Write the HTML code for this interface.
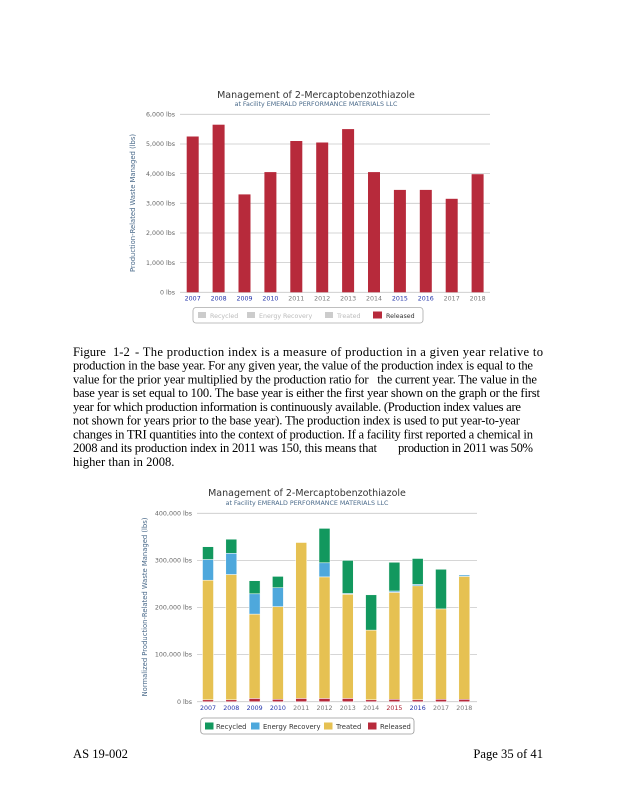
<!DOCTYPE html>
<html><head><meta charset="utf-8"><style>
html,body{margin:0;padding:0;background:#fff;}
svg{display:block;}
.t{font-family:"Liberation Serif",serif;font-size:12.6px;fill:#000;}
.a{font-family:"DejaVu Sans","Liberation Sans",sans-serif;}
</style></head><body>
<svg width="618" height="800" viewBox="0 0 618 800" xmlns="http://www.w3.org/2000/svg">
<rect width="618" height="800" fill="#fff"/>
<!-- Chart 1 -->
<text class="a" x="316" y="98" font-size="9.5" fill="#333" text-anchor="middle">Management of 2-Mercaptobenzothiazole</text>
<text class="a" x="316" y="106" font-size="6.3" fill="#4a6a8a" text-anchor="middle">at Facility EMERALD PERFORMANCE MATERIALS LLC</text>
<g stroke="#c8c8c8" stroke-width="0.8">
<line x1="180" x2="490" y1="114.3" y2="114.3"/><line x1="180" x2="490" y1="144" y2="144"/><line x1="180" x2="490" y1="173.6" y2="173.6"/><line x1="180" x2="490" y1="203.3" y2="203.3"/><line x1="180" x2="490" y1="233" y2="233"/><line x1="180" x2="490" y1="262.6" y2="262.6"/><line x1="180" x2="490" y1="292.3" y2="292.3"/>
</g>
<g class="a" font-size="6.3" fill="#666" text-anchor="end">
<text x="175" y="116.5">6,000 lbs</text><text x="175" y="146">5,000 lbs</text><text x="175" y="176">4,000 lbs</text><text x="175" y="205.5">3,000 lbs</text><text x="175" y="235">2,000 lbs</text><text x="175" y="265">1,000 lbs</text><text x="175" y="294.5">0 lbs</text>
</g>
<text class="a" font-size="6.8" fill="#4a6a8a" text-anchor="middle" transform="translate(135,203) rotate(-90)">Production-Related Waste Managed (lbs)</text>
<g fill="#b72a3b">
<rect x="186.7" y="136.5" width="12" height="155.8"/><rect x="212.6" y="124.7" width="12" height="167.6"/><rect x="238.5" y="194.4" width="12" height="97.9"/><rect x="264.4" y="172.1" width="12" height="120.2"/><rect x="290.3" y="141" width="12" height="151.3"/><rect x="316.2" y="142.5" width="12" height="149.8"/><rect x="342.1" y="129.1" width="12" height="163.2"/><rect x="368" y="172.1" width="12" height="120.2"/><rect x="393.9" y="189.9" width="12" height="102.4"/><rect x="419.8" y="189.9" width="12" height="102.4"/><rect x="445.7" y="198.8" width="12" height="93.5"/><rect x="471.6" y="174.2" width="12" height="118.1"/>
</g>
<g class="a" font-size="6.3" text-anchor="middle">
<text x="192.7" y="300.5" fill="#2233aa">2007</text><text x="218.6" y="300.5" fill="#2233aa">2008</text><text x="244.5" y="300.5" fill="#2233aa">2009</text><text x="270.4" y="300.5" fill="#2233aa">2010</text><text x="296.3" y="300.5" fill="#777">2011</text><text x="322.2" y="300.5" fill="#777">2012</text><text x="348.1" y="300.5" fill="#777">2013</text><text x="374" y="300.5" fill="#777">2014</text><text x="399.9" y="300.5" fill="#2233aa">2015</text><text x="425.8" y="300.5" fill="#2233aa">2016</text><text x="451.7" y="300.5" fill="#777">2017</text><text x="477.6" y="300.5" fill="#777">2018</text>
</g>
<rect x="193" y="307.5" width="230" height="15.5" rx="3" fill="#fff" stroke="#aaa" stroke-width="0.8"/>
<g class="a" font-size="6.3">
<rect x="198" y="312" width="8" height="6" fill="#ccc"/><text x="210" y="318" fill="#bbb">Recycled</text>
<rect x="247" y="312" width="8" height="6" fill="#ccc"/><text x="259" y="318" fill="#bbb">Energy Recovery</text>
<rect x="325" y="312" width="8" height="6" fill="#ccc"/><text x="337" y="318" fill="#bbb">Treated</text>
<rect x="373" y="311.5" width="9" height="7" fill="#b72a3b"/><text x="386" y="318" fill="#333">Released</text>
</g>
<!-- Paragraph -->
<text class="t" x="73" y="356" font-size="8">Figure</text>
<text class="t" x="113" y="356" font-size="9">1-2</text>
<text class="t" x="135" y="356" textLength="408" lengthAdjust="spacing">- The production index is a measure of production in a given year relative to</text>
<text class="t" x="73" y="369.5" textLength="460" lengthAdjust="spacing">production in the base year. For any given year, the value of the production index is equal to the</text>
<text class="t" x="73" y="383.5" textLength="464" lengthAdjust="spacing">value for the prior year multiplied by the production ratio for &#160; the current year. The value in the</text>
<text class="t" x="73" y="397" textLength="467" lengthAdjust="spacing">base year is set equal to 100. The base year is either the first year shown on the graph or the first</text>
<text class="t" x="73" y="411" textLength="448" lengthAdjust="spacing">year for which production information is continuously available. (Production index values are</text>
<text class="t" x="73" y="424.5" textLength="447" lengthAdjust="spacing">not shown for years prior to the base year). The production index is used to put year-to-year</text>
<text class="t" x="73" y="438.5" textLength="460" lengthAdjust="spacing">changes in TRI quantities into the context of production. If a facility first reported a chemical in</text>
<text class="t" x="73" y="452" textLength="304" lengthAdjust="spacing">2008 and its production index in 2011 was 150, this means that</text>
<text class="t" x="398" y="452" textLength="135" lengthAdjust="spacing">production in 2011 was 50%</text>
<text class="t" x="73" y="466">higher than in 2008.</text>
<!-- Chart 2 -->
<text class="a" x="307" y="496" font-size="9.5" fill="#333" text-anchor="middle">Management of 2-Mercaptobenzothiazole</text>
<text class="a" x="307" y="505" font-size="6.3" fill="#4a6a8a" text-anchor="middle">at Facility EMERALD PERFORMANCE MATERIALS LLC</text>
<g stroke="#c8c8c8" stroke-width="0.8">
<line x1="197" x2="477" y1="513.3" y2="513.3"/><line x1="197" x2="477" y1="560.4" y2="560.4"/><line x1="197" x2="477" y1="607.5" y2="607.5"/><line x1="197" x2="477" y1="654.6" y2="654.6"/><line x1="197" x2="477" y1="701.7" y2="701.7"/>
</g>
<g class="a" font-size="6.3" fill="#666" text-anchor="end">
<text x="192" y="515.5">400,000 lbs</text><text x="192" y="562.5">300,000 lbs</text><text x="192" y="609.5">200,000 lbs</text><text x="192" y="656.5">100,000 lbs</text><text x="192" y="704">0 lbs</text>
</g>
<text class="a" font-size="6.8" fill="#4a6a8a" text-anchor="middle" transform="translate(147,607) rotate(-90)">Normalized Production-Related Waste Managed (lbs)</text>
<g stroke="#fff" stroke-width="0.5">
<rect x="202.5" y="699.8" width="11" height="1.9" fill="#b72a3b"/><rect x="202.5" y="580.2" width="11" height="119.6" fill="#e6c152"/><rect x="202.5" y="559.5" width="11" height="20.7" fill="#4ea8dc"/><rect x="202.5" y="546.7" width="11" height="12.8" fill="#12985e"/>
<rect x="225.8" y="699.8" width="11" height="1.9" fill="#b72a3b"/><rect x="225.8" y="574.5" width="11" height="125.3" fill="#e6c152"/><rect x="225.8" y="553.3" width="11" height="21.2" fill="#4ea8dc"/><rect x="225.8" y="539.2" width="11" height="14.1" fill="#12985e"/>
<rect x="249.1" y="698.4" width="11" height="3.3" fill="#b72a3b"/><rect x="249.1" y="614.1" width="11" height="84.3" fill="#e6c152"/><rect x="249.1" y="593.8" width="11" height="20.3" fill="#4ea8dc"/><rect x="249.1" y="580.7" width="11" height="13.1" fill="#12985e"/>
<rect x="272.4" y="699.3" width="11" height="2.4" fill="#b72a3b"/><rect x="272.4" y="606.6" width="11" height="92.7" fill="#e6c152"/><rect x="272.4" y="587.7" width="11" height="18.9" fill="#4ea8dc"/><rect x="272.4" y="576.4" width="11" height="11.3" fill="#12985e"/>
<rect x="295.7" y="698.4" width="11" height="3.3" fill="#b72a3b"/><rect x="295.7" y="542.5" width="11" height="155.9" fill="#e6c152"/>
<rect x="319" y="698.4" width="11" height="3.3" fill="#b72a3b"/><rect x="319" y="576.9" width="11" height="121.5" fill="#e6c152"/><rect x="319" y="562.8" width="11" height="14.1" fill="#4ea8dc"/><rect x="319" y="528.4" width="11" height="34.4" fill="#12985e"/>
<rect x="342.3" y="698.4" width="11" height="3.3" fill="#b72a3b"/><rect x="342.3" y="594.3" width="11" height="104.1" fill="#e6c152"/><rect x="342.3" y="593.4" width="11" height="0.9" fill="#4ea8dc"/><rect x="342.3" y="560.4" width="11" height="33" fill="#12985e"/>
<rect x="365.6" y="699.8" width="11" height="1.9" fill="#b72a3b"/><rect x="365.6" y="630.1" width="11" height="69.7" fill="#e6c152"/><rect x="365.6" y="594.8" width="11" height="35.3" fill="#12985e"/>
<rect x="388.9" y="699.3" width="11" height="2.4" fill="#b72a3b"/><rect x="388.9" y="592.4" width="11" height="106.9" fill="#e6c152"/><rect x="388.9" y="591" width="11" height="1.4" fill="#4ea8dc"/><rect x="388.9" y="562.3" width="11" height="28.7" fill="#12985e"/>
<rect x="412.2" y="699.8" width="11" height="1.9" fill="#b72a3b"/><rect x="412.2" y="585.8" width="11" height="114" fill="#e6c152"/><rect x="412.2" y="584.4" width="11" height="1.4" fill="#4ea8dc"/><rect x="412.2" y="558.5" width="11" height="25.9" fill="#12985e"/>
<rect x="435.5" y="699.3" width="11" height="2.4" fill="#b72a3b"/><rect x="435.5" y="608.9" width="11" height="90.4" fill="#e6c152"/><rect x="435.5" y="569.3" width="11" height="39.6" fill="#12985e"/>
<rect x="458.8" y="699.3" width="11" height="2.4" fill="#b72a3b"/><rect x="458.8" y="576.4" width="11" height="122.9" fill="#e6c152"/><rect x="458.8" y="575" width="11" height="1.4" fill="#4ea8dc"/>
</g>
<g class="a" font-size="6.3" text-anchor="middle">
<text x="208" y="710" fill="#2233aa">2007</text><text x="231.3" y="710" fill="#2233aa">2008</text><text x="254.6" y="710" fill="#2233aa">2009</text><text x="277.9" y="710" fill="#2233aa">2010</text><text x="301.2" y="710" fill="#777">2011</text><text x="324.5" y="710" fill="#777">2012</text><text x="347.8" y="710" fill="#777">2013</text><text x="371.1" y="710" fill="#777">2014</text><text x="394.4" y="710" fill="#aa2233">2015</text><text x="417.7" y="710" fill="#2233aa">2016</text><text x="441" y="710" fill="#777">2017</text><text x="464.3" y="710" fill="#777">2018</text>
</g>
<rect x="200.7" y="718" width="213.3" height="16" rx="3" fill="#fff" stroke="#999" stroke-width="0.8"/>
<g class="a" font-size="6.8" fill="#333">
<rect x="205" y="722.5" width="8.5" height="7" fill="#12985e"/><text x="216" y="729">Recycled</text>
<rect x="251" y="722.5" width="8.5" height="7" fill="#4ea8dc"/><text x="263" y="729">Energy Recovery</text>
<rect x="324" y="722.5" width="8.5" height="7" fill="#e6c152"/><text x="336" y="729">Treated</text>
<rect x="368" y="722.5" width="8.5" height="7" fill="#b72a3b"/><text x="380" y="729">Released</text>
</g>
<text class="t" x="73" y="758">AS 19-002</text>
<text class="t" x="543" y="758" text-anchor="end">Page 35 of 41</text>
</svg>
</body></html>
